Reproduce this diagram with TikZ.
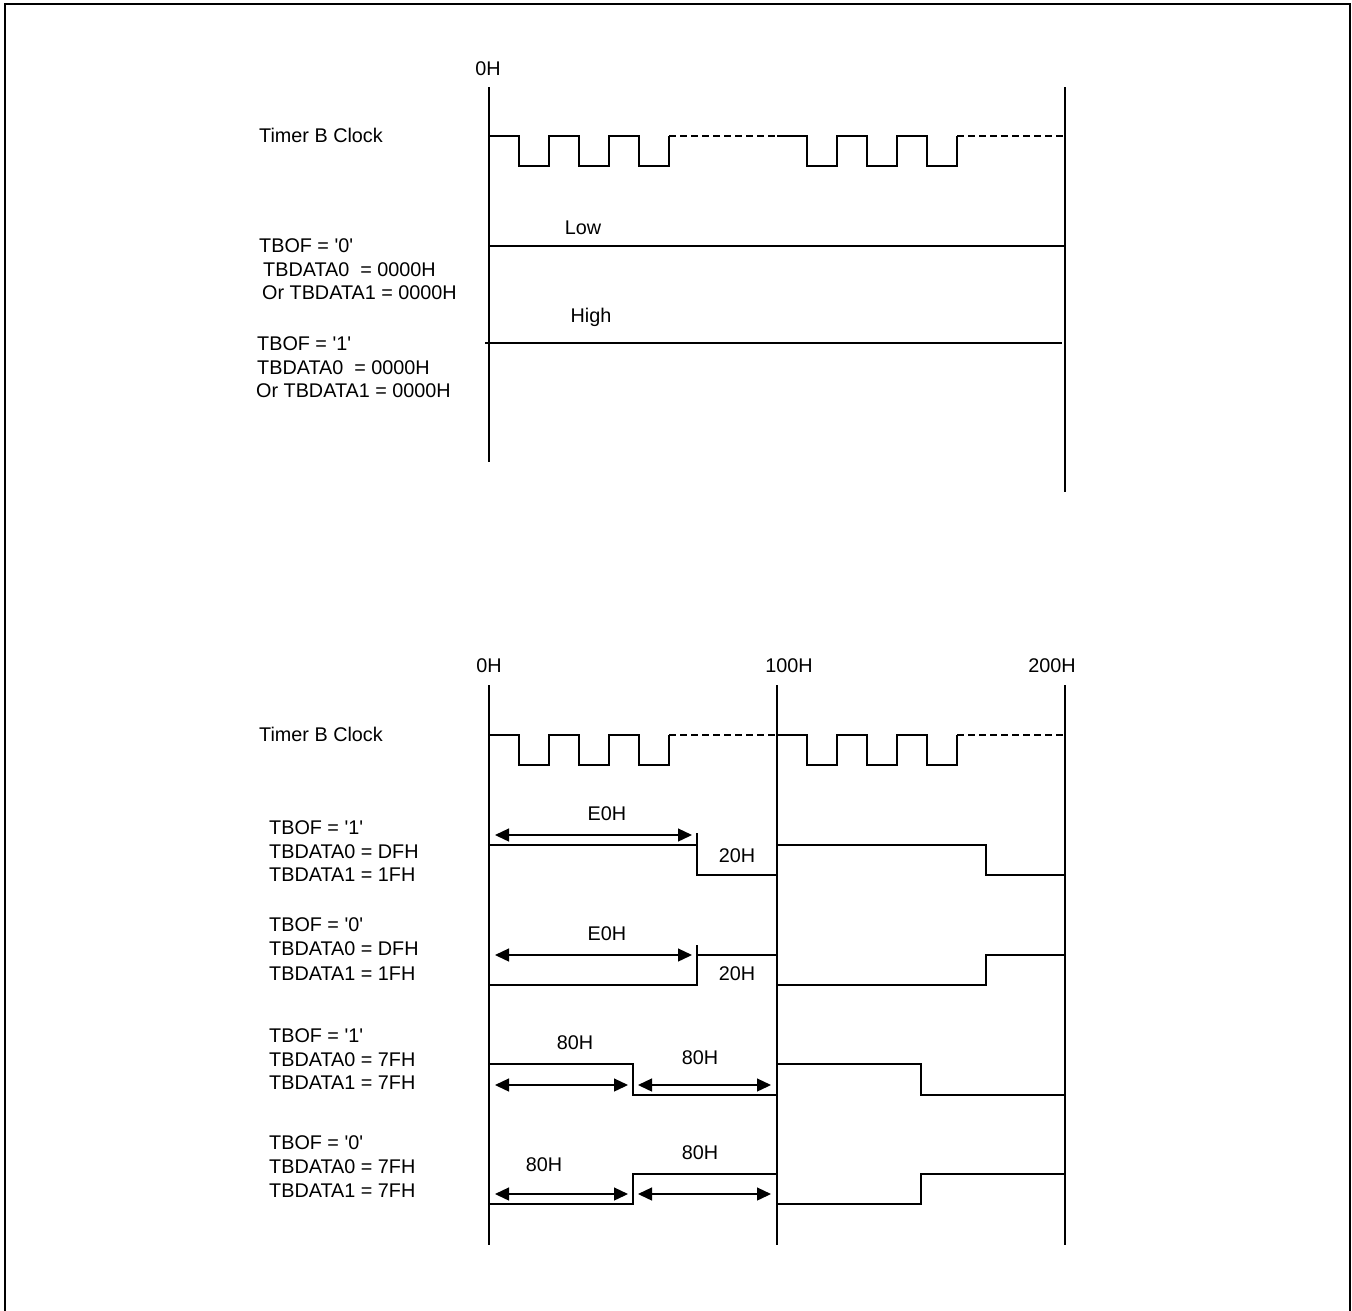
\documentclass[tikz,border=0pt]{standalone}
\usepackage{fontspec}
\setmainfont{Liberation Sans}
\usetikzlibrary{arrows.meta}
\newcommand{\sq}{\textquotesingle}
\begin{document}
\begin{tikzpicture}[x=1pt,y=-1pt,
  sig/.style={line width=1.3pt},
  gridln/.style={line width=1.3pt},
  dsh/.style={line width=1.3pt,dash pattern=on 7pt off 4pt},
  lbl/.style={font=\fontsize{19.8}{24}\selectfont,inner sep=0pt,anchor=base west},
  clbl/.style={font=\fontsize{19.8}{24}\selectfont,inner sep=0pt,anchor=base},
  dimarrow/.style={line width=1.3pt,{Triangle[length=14pt,width=13pt]}-{Triangle[length=14pt,width=13pt]}},
  frameln/.style={line width=2pt}]
\useasboundingbox (0,0) rectangle (1352,1310);
% frame
\draw[frameln] (5,1312) -- (5,4) -- (1350,4) -- (1350,1312);

% ================= top diagram =================
\node[clbl] (tzero) at (488,75) {0H};
\draw[gridln] (489,87) -- (489,462);
\draw[gridln] (1065,87) -- (1065,492);
\node[lbl] (tclk) at (259,142) {Timer B Clock};
\foreach \s/\e in {489/777,777/1065}{
  \draw[sig] (\s,136) -| ++(30,30) -| ++(30,-30) -| ++(30,30) -| ++(30,-30) -| ++(30,30) -| ++(30,-30) coordinate (ce);
  \draw[dsh] (ce) -- (\e,136);
}
\node[clbl] (tlow) at (583,234) {Low};
\draw[sig] (489,246) -- (1065,246);
\node[clbl] (thigh) at (591,322) {High};
\draw[sig] (485,343) -- (1062,343);
\node[lbl] (ta1) at (259,252) {TBOF = \sq0\sq};
\node[lbl] (ta2) at (263,276) {TBDATA0~ = 0000H};
\node[lbl] (ta3) at (262,299) {Or TBDATA1 = 0000H};
\node[lbl] (tb1) at (257,350) {TBOF = \sq1\sq};
\node[lbl] (tb2) at (257,374) {TBDATA0~ = 0000H};
\node[lbl] (tb3) at (256,397) {Or TBDATA1 = 0000H};

% ================= bottom diagram =================
\node[clbl] (bzero) at (489,672) {0H};
\node[clbl] (bone) at (789,672) {100H};
\node[clbl] (btwo) at (1052,672) {200H};
\draw[gridln] (489,685) -- (489,1245);
\draw[gridln] (777,685) -- (777,1245);
\draw[gridln] (1065,685) -- (1065,1245);
\node[lbl] (bclk) at (259,741) {Timer B Clock};
\foreach \s/\e in {489/777,777/1065}{
  \draw[sig] (\s,735) -| ++(30,30) -| ++(30,-30) -| ++(30,30) -| ++(30,-30) -| ++(30,30) -| ++(30,-30) coordinate (ce);
  \draw[dsh] (ce) -- (\e,735);
}

% row 1
\node[lbl] (r1a) at (269,834) {TBOF = \sq1\sq};
\node[lbl] (r1b) at (269,858) {TBDATA0 = DFH};
\node[lbl] (r1c) at (269,881) {TBDATA1 = 1FH};
\draw[sig] (489,845) -- (697,845);
\draw[sig] (697,833) -- (697,875) -- (777,875);
\draw[sig] (777,845) -- (986,845) -- (986,875) -- (1065,875);
\draw[dimarrow] (495,835) -- (692,835);
\node[clbl] (r1e) at (607,820) {E0H};
\node[clbl] (r1t) at (737,862) {20H};

% row 2
\node[lbl] (r2a) at (269,931) {TBOF = \sq0\sq};
\node[lbl] (r2b) at (269,955) {TBDATA0 = DFH};
\node[lbl] (r2c) at (269,980) {TBDATA1 = 1FH};
\draw[sig] (489,985) -- (697,985) -- (697,945);
\draw[sig] (697,955) -- (777,955);
\draw[sig] (777,985) -- (986,985) -- (986,955) -- (1065,955);
\draw[dimarrow] (495,955) -- (692,955);
\node[clbl] (r2e) at (607,940) {E0H};
\node[clbl] (r2t) at (737,980) {20H};

% row 3
\node[lbl] (r3a) at (269,1042) {TBOF = \sq1\sq};
\node[lbl] (r3b) at (269,1066) {TBDATA0 = 7FH};
\node[lbl] (r3c) at (269,1089) {TBDATA1 = 7FH};
\draw[sig] (489,1064) -- (633,1064) -- (633,1095) -- (777,1095);
\draw[sig] (777,1064) -- (921,1064) -- (921,1095) -- (1065,1095);
\draw[dimarrow] (495,1085) -- (628,1085);
\draw[dimarrow] (638,1085) -- (771,1085);
\node[clbl] (r3x) at (575,1049) {80H};
\node[clbl] (r3y) at (700,1064) {80H};

% row 4
\node[lbl] (r4a) at (269,1149) {TBOF = \sq0\sq};
\node[lbl] (r4b) at (269,1173) {TBDATA0 = 7FH};
\node[lbl] (r4c) at (269,1197) {TBDATA1 = 7FH};
\draw[sig] (489,1204) -- (633,1204) -- (633,1174) -- (777,1174);
\draw[sig] (777,1204) -- (921,1204) -- (921,1174) -- (1065,1174);
\draw[dimarrow] (495,1194) -- (628,1194);
\draw[dimarrow] (638,1194) -- (771,1194);
\node[clbl] (r4x) at (544,1171) {80H};
\node[clbl] (r4y) at (700,1159) {80H};
\end{tikzpicture}
\end{document}
